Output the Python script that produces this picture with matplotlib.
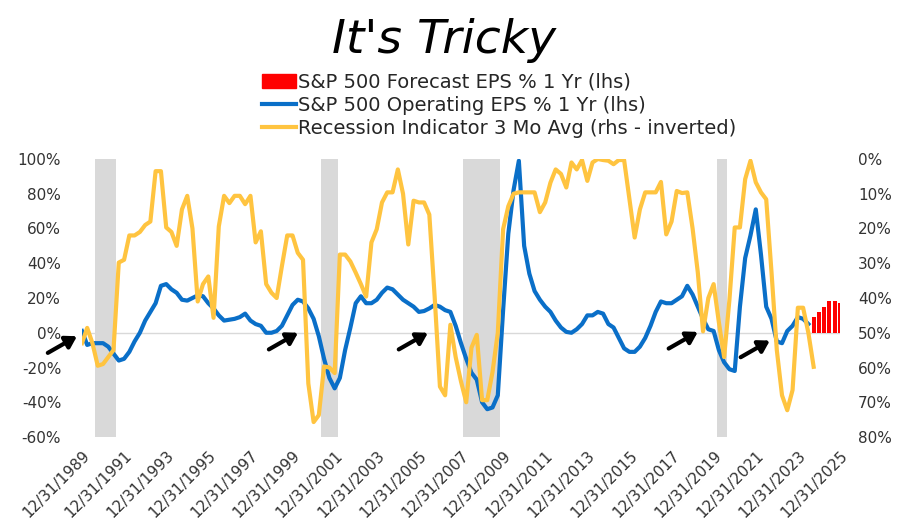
import pandas as pd
import matplotlib
matplotlib.use("Agg")
import matplotlib.pyplot as plt
import matplotlib.dates as mdates
from matplotlib.patches import Patch
from matplotlib.lines import Line2D
from matplotlib.ticker import FuncFormatter

# quarterly series starting 12/31/1989
eps_growth = [
    1, -7, -6, -6, -6, -8, -12, -16, -15, -11,
    -5, 0, 7, 12, 17, 27, 28, 25, 23, 19,
    18.5, 20, 21.5, 21, 17, 14, 10, 7, 7.5, 8,
    9, 11, 7, 5, 4, 0, 0, 1, 4, 10,
    16, 19, 18, 14, 8, -2, -15, -26, -32, -26,
    -10, 3, 17, 21, 17, 17, 19, 23, 26, 25,
    22, 19, 17, 15, 12, 12.5, 14, 16, 15, 13,
    12, 4, -6, -15, -23, -27, -40, -44, -43, -36,
    13, 57, 82, 99, 50, 34, 24, 19, 15, 12,
    7, 3, 0.5, 0, 2, 5, 10, 10, 12, 11,
    5, 3, -3, -9, -11, -11, -8, -3, 4, 12,
    18, 17, 17, 19, 21, 27, 22, 15, 8, 2,
    1, -10, -17, -21, -22, 15, 43, 56, 71, 45,
    15, 8, -5, -6, 1, 4, 9, 8, 5,
]
recession_ind = [
    53, 48.6, 53, 59.5, 59, 57, 55, 29.8, 29, 22,
    22, 21, 19, 18, 3.5, 3.5, 19.7, 21, 25, 14.5,
    10.6, 20, 41, 36, 33.8, 45.7, 19.4, 10.6, 12.7, 10.6,
    10.6, 13, 10.6, 24, 20.8, 36, 38.5, 40, 30.8, 22,
    22, 27, 29, 64.6, 75.7, 73.7, 59.7, 60, 61.6, 27.5,
    27.5, 29.5, 32.7, 36, 39.6, 24, 20.2, 12.5, 9.6, 9.6,
    3, 10, 24.6, 12, 12.5, 12.5, 16, 39.5, 65.5, 68,
    47.7, 57, 64, 70, 54.3, 50.6, 69.4, 69.4, 61.3, 50,
    20.2, 13.6, 10, 9.6, 9.6, 9.6, 9.6, 15.3, 12.5, 6.8,
    3, 4.3, 8.2, 1, 3, 0.3, 6.3, 1, 0, 0.3,
    0.5, 1.5, 0.3, 0.3, 11.6, 22.6, 14.5, 9.6, 9.6, 9.6,
    6.6, 21.7, 18, 9.2, 9.8, 9.6, 20, 32.6, 49.6, 40,
    36, 47, 57, 40.5, 19.7, 19.7, 5.8, 0.5, 6.7, 9.6,
    11.6, 32.6, 55, 68, 72.3, 66.5, 42.8, 42.8, 50, 59.8,
]
eps_dates = pd.date_range("1989-12-31", periods=len(eps_growth), freq="QE")
rec_dates = pd.date_range("1989-12-31", periods=len(recession_ind), freq="QE")

forecast_dates = pd.to_datetime(["2024-09-30", "2024-12-31", "2025-03-31",
                                 "2025-06-30", "2025-09-30", "2025-12-31"])
forecast_eps = [9, 12, 15, 18, 18, 17]

recessions = [("1990-08-15", "1991-08-10"), ("2001-05-05", "2002-03-01"),
              ("2008-02-01", "2009-11-05"), ("2020-02-25", "2020-08-15")]

arrow_dates = pd.to_datetime(["1989-10-05", "2000-04-05", "2006-06-06",
                              "2019-04-01", "2022-09-01"])
arrow_values = [-2, 0, 0, 0.5, -4.5]

tick_dates = pd.to_datetime([f"{y}-12-31" for y in range(1989, 2026, 2)])

BLUE = "#0A6FC8"
YELLOW = "#FFC440"

fig = plt.figure(figsize=(9.01, 5.25), dpi=100)
ax = fig.add_axes([82 / 901, 1 - 437 / 525, (840 - 82) / 901, (437 - 159) / 525])
ax2 = ax.twinx()

for start, end in recessions:
    ax.axvspan(pd.Timestamp(start), pd.Timestamp(end), color="#D9D9D9", lw=0, zorder=0)
ax.axhline(0, color="#D9D9D9", lw=1, zorder=1)

ax.bar(forecast_dates, forecast_eps, width=68, color="#FF0000", zorder=2)
ax.plot(eps_dates, eps_growth, color=BLUE, lw=3, zorder=3, solid_joinstyle="round")
ax2.plot(rec_dates, recession_ind, color=YELLOW, lw=3, solid_joinstyle="round")

ax.set_xlim(pd.Timestamp("1989-12-31"), pd.Timestamp("2025-12-31"))
ax.set_ylim(-60, 100)
ax.set_yticks(range(-60, 101, 20))
ax2.set_ylim(80, 0)
ax2.set_yticks(range(0, 81, 10))
pct = FuncFormatter(lambda v, _: f"{v:.0f}%")
ax.yaxis.set_major_formatter(pct)
ax2.yaxis.set_major_formatter(pct)

ax.set_xticks(tick_dates)
ax.xaxis.set_major_formatter(mdates.DateFormatter("%m/%d/%Y"))
for lab in ax.get_xticklabels():
    lab.set_rotation(45)
    lab.set_ha("right")
    lab.set_va("top")
    lab.set_rotation_mode("anchor")

for a in (ax, ax2):
    for s in a.spines.values():
        s.set_visible(False)
    a.tick_params(length=0, labelsize=11, colors="#333333")
ax.tick_params(axis="y", pad=15)
ax2.tick_params(axis="y", pad=13)
ax.tick_params(axis="x", pad=8)

for d, v in zip(arrow_dates, arrow_values):
    ax.annotate("", xy=(d, v), xytext=(-21, -12), textcoords="offset points",
                annotation_clip=False, zorder=6,
                arrowprops=dict(arrowstyle="-|>,head_length=0.65,head_width=0.4",
                                lw=3, color="black", mutation_scale=10,
                                shrinkA=0, shrinkB=0))

fig.text(0.493, 0.922, "It's Tricky", ha="center", va="center",
         fontsize=34, style="italic", color="black")

handles = [Patch(color="#FF0000"), Line2D([], [], color=BLUE, lw=3),
           Line2D([], [], color=YELLOW, lw=3)]
labels = ["S&P 500 Forecast EPS % 1 Yr (lhs)", "S&P 500 Operating EPS % 1 Yr (lhs)",
          "Recession Indicator 3 Mo Avg (rhs - inverted)"]
fig.legend(handles, labels, loc="upper left", bbox_to_anchor=(262 / 901, 1 - 73 / 525),
           frameon=False, fontsize=14, handlelength=1.75, handleheight=0.75,
           handletextpad=0.1, labelspacing=0.2, borderaxespad=0, borderpad=0,
           labelcolor="#262626")

fig.savefig("out.png", dpi=100)
